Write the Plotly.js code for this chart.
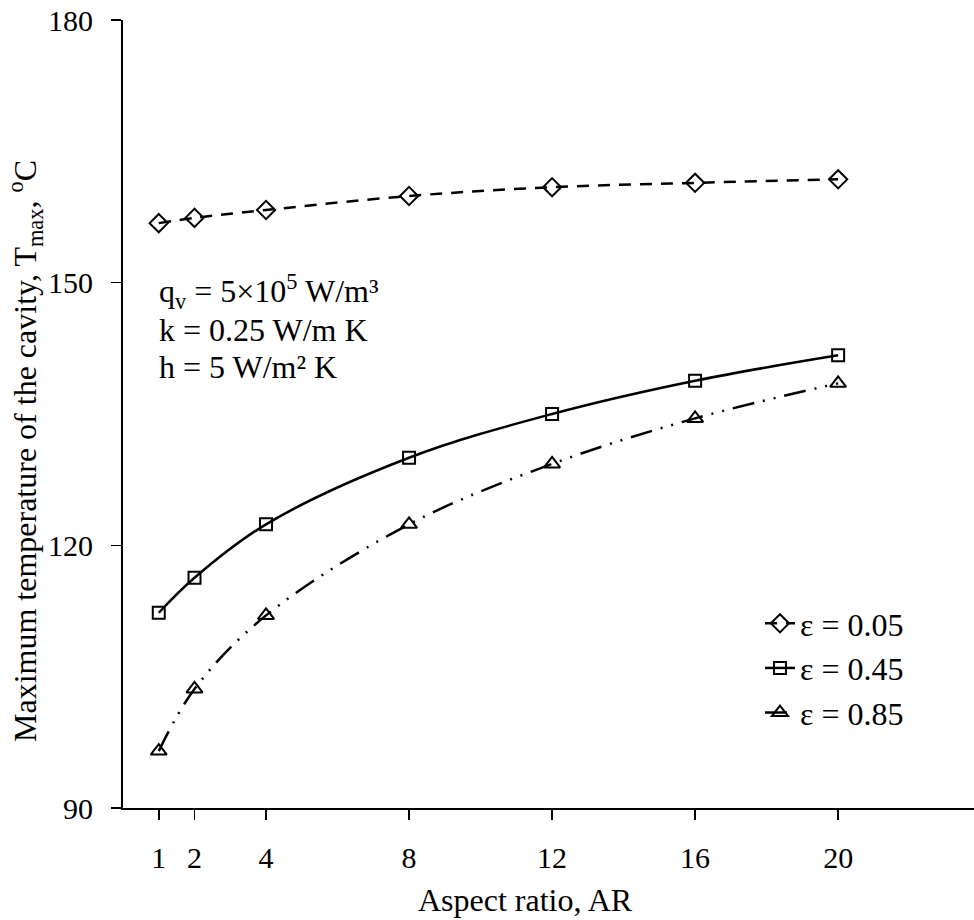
<!DOCTYPE html>
<html>
<head>
<meta charset="utf-8">
<script src="https://cdn.plot.ly/plotly-3.0.1.min.js"></script>
<style>html,body{margin:0;padding:0;background:#fff;}</style>
</head>
<body>
<div id="chart" style="width:974px;height:920px;"></div>
<script>
// Data
var aspectRatio = [1, 2, 4, 8, 12, 16, 20];
var tmaxEps005 = [156.8, 157.4, 158.3, 159.9, 160.9, 161.4, 161.8];
var tmaxEps045 = [112.3, 116.3, 122.4, 130.0, 135.0, 138.8, 141.7];
var tmaxEps085 = [96.5, 103.6, 112.0, 122.4, 129.3, 134.5, 138.5];
var seriesNames = ['\u03b5 = 0.05', '\u03b5 = 0.45', '\u03b5 = 0.85'];
var xTicks = [1, 2, 4, 8, 12, 16, 20];
var yTicks = [90, 120, 150, 180];

var FONT = '"Liberation Serif", "Times New Roman", serif';

var traces = [
  {
    x: aspectRatio, y: tmaxEps005, name: seriesNames[0], type: 'scatter', mode: 'lines+markers',
    line: {color: '#000', width: 2.5, dash: '12px,9px', shape: 'spline'},
    marker: {symbol: 'diamond-open', size: 14, color: '#000', line: {width: 2, color: '#000'}},
    legendgroup: 'a'
  },
  {
    x: aspectRatio, y: tmaxEps045, name: seriesNames[1], type: 'scatter', mode: 'lines+markers',
    line: {color: '#000', width: 2.5, dash: 'solid', shape: 'spline'},
    marker: {symbol: 'square-open', size: 12, color: '#000', line: {width: 2, color: '#000'}},
    legendgroup: 'b'
  },
  {
    x: aspectRatio, y: tmaxEps085, name: seriesNames[2], type: 'scatter', mode: 'lines+markers',
    line: {color: '#000', width: 2.5, dash: '22px,9px,2px,9px,2px,9px', shape: 'spline'},
    marker: {symbol: 'triangle-up-open', size: 14, color: '#000', line: {width: 2, color: '#000'}},
    legendgroup: 'c'
  }
];

var layout = {
  width: 974, height: 920,
  margin: {l: 123, r: 0, t: 20, b: 112},
  paper_bgcolor: '#fff', plot_bgcolor: '#fff',
  font: {family: FONT, size: 30, color: '#000'},
  showlegend: true,
  legend: {
    x: 0.7485, xanchor: 'left', y: 0.269, yanchor: 'top',
    bgcolor: 'rgba(0,0,0,0)', borderwidth: 0,
    font: {family: FONT, size: 32, color: '#000'},
    tracegroupgap: 2, traceorder: 'normal'
  },
  xaxis: {
    range: [0, 23.8], tickmode: 'array', tickvals: xTicks, ticktext: xTicks.map(String),
    showline: true, linecolor: '#000', linewidth: 2, mirror: false,
    ticks: 'outside', ticklen: 10, tickwidth: 1.5, tickcolor: '#000',
    ticklabelstandoff: 12,
    showgrid: false, zeroline: false,
    tickfont: {family: FONT, size: 30, color: '#000'}
  },
  yaxis: {
    range: [90, 180], tickmode: 'array', tickvals: yTicks, ticktext: yTicks.map(String),
    showline: true, linecolor: '#000', linewidth: 2, mirror: false,
    ticks: 'outside', ticklen: 10, tickwidth: 1.5, tickcolor: '#000',
    ticklabelstandoff: 12,
    showgrid: false, zeroline: false,
    tickfont: {family: FONT, size: 30, color: '#000'}
  },
  annotations: [
    {xref: 'paper', yref: 'paper', x: 0.4725, y: -0.117, xanchor: 'center', yanchor: 'middle',
     text: 'Aspect ratio, AR', showarrow: false, font: {family: FONT, size: 32, color: '#000'}},
    {xref: 'paper', yref: 'paper', x: -0.1152, y: 0.453, xanchor: 'center', yanchor: 'middle', textangle: -90,
     text: 'Maximum temperature of the cavity, T<sub>max</sub>, <sup>o</sup>C', showarrow: false,
     font: {family: FONT, size: 32, color: '#000'}},
    {xref: 'paper', yref: 'paper', x: 0.04, y: 0.6556, xanchor: 'left', yanchor: 'middle',
     text: 'q<sub>v</sub> = 5\u00d710<sup>5</sup> W/m\u00b3', showarrow: false, font: {family: FONT, size: 32, color: '#000'}},
    {xref: 'paper', yref: 'paper', x: 0.04, y: 0.6066, xanchor: 'left', yanchor: 'middle',
     text: 'k = 0.25 W/m K', showarrow: false, font: {family: FONT, size: 32, color: '#000'}},
    {xref: 'paper', yref: 'paper', x: 0.04, y: 0.5596, xanchor: 'left', yanchor: 'middle',
     text: 'h = 5 W/m\u00b2 K', showarrow: false, font: {family: FONT, size: 32, color: '#000'}}
  ]
};

Plotly.newPlot('chart', traces, layout, {displayModeBar: false, staticPlot: true});
</script>
</body>
</html>
